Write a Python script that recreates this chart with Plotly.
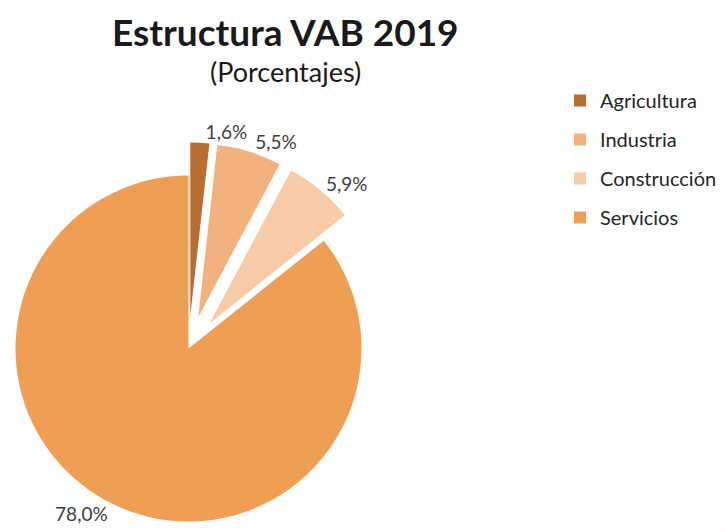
import math
import plotly.graph_objects as go

# ---- data ----
categories = ["Agricultura", "Industria", "Construcción", "Servicios"]
values = [1.6, 5.5, 5.9, 78.0]
colors = ["#B86D31", "#F2B27D", "#F7CBA5", "#EE9F55"]
exploded = [True, True, True, False]

title_text = "Estructura VAB 2019"
subtitle_text = "(Porcentajes)"

# ---- layout geometry (pixels) ----
W, H = 725, 532
CX, CY = 188.5, 348.5   # pie centre, px from top-left
R = 173                  # pie radius, px
PULL_PX = 33             # explosion distance, px
FONT = "Lato"


def domain(cx, cy, r):
    return dict(x=[(cx - r) / W, (cx + r) / W],
                y=[(H - cy - r) / H, (H - cy + r) / H])


def fmt(v):
    return f"{v:.1f}".replace(".", ",") + "%"


total = sum(values)
fig = go.Figure()

# legend-only tiny pies (one per category, separate groups for spacing)
for i, (c, v, col) in enumerate(zip(categories, values, colors)):
    fig.add_trace(go.Pie(
        labels=[c], values=[v], marker=dict(colors=[col], line=dict(width=0)),
        domain=dict(x=[0.9995, 1.0], y=[0.0, 0.0005]),
        textinfo="none", hoverinfo="skip", showlegend=True,
        legendgroup=f"g{i}", sort=False,
    ))

# one visible trace per slice; others transparent to keep the angles
cum = 0.0
for i, (c, v, col) in enumerate(zip(categories, values, colors)):
    mid = 2 * math.pi * (cum + v / 2) / total
    cum += v
    d = PULL_PX if exploded[i] else 0
    cx = CX + d * math.sin(mid)
    cy = CY - d * math.cos(mid)
    slice_colors = [colors[j] if j == i else "rgba(0,0,0,0)" for j in range(len(values))]
    texts = [fmt(values[j]) if j == i else "" for j in range(len(values))]
    tpos = ["outside" if j == i else "none" for j in range(len(values))]
    fig.add_trace(go.Pie(
        labels=categories, values=values, sort=False, direction="clockwise",
        rotation=0,
        marker=dict(colors=slice_colors, line=dict(width=0)),
        text=texts, textinfo="text", textposition=tpos,
        outsidetextfont=dict(family=FONT, size=19, color="#404040"),
        domain=domain(cx, cy, R), showlegend=False, hoverinfo="skip",
    ))

fig.update_layout(
    width=W, height=H,
    margin=dict(l=0, r=0, t=0, b=0),
    paper_bgcolor="white", plot_bgcolor="white",
    font=dict(family=FONT, color="#262626"),
    legend=dict(x=560 / W, y=1 - 81 / H, xanchor="left", yanchor="top",
                font=dict(family=FONT, size=20, color="#262626"),
                traceorder="grouped", tracegroupgap=10,
                bgcolor="rgba(0,0,0,0)"),
    annotations=[
        dict(text=f"<b>{title_text}</b>", x=285 / W, y=1 - 31 / H,
             xref="paper", yref="paper", xanchor="center", yanchor="middle",
             showarrow=False, font=dict(family=FONT, size=37, color="#1a1a1a")),
        dict(text=subtitle_text, x=285 / W, y=1 - 71 / H,
             xref="paper", yref="paper", xanchor="center", yanchor="middle",
             showarrow=False, font=dict(family=FONT, size=27, color="#1a1a1a")),
    ],
)

fig.write_html("out.html",
               config={"displayModeBar": False},
               post_script="document.body.style.margin='0';document.body.style.overflow='hidden';")
